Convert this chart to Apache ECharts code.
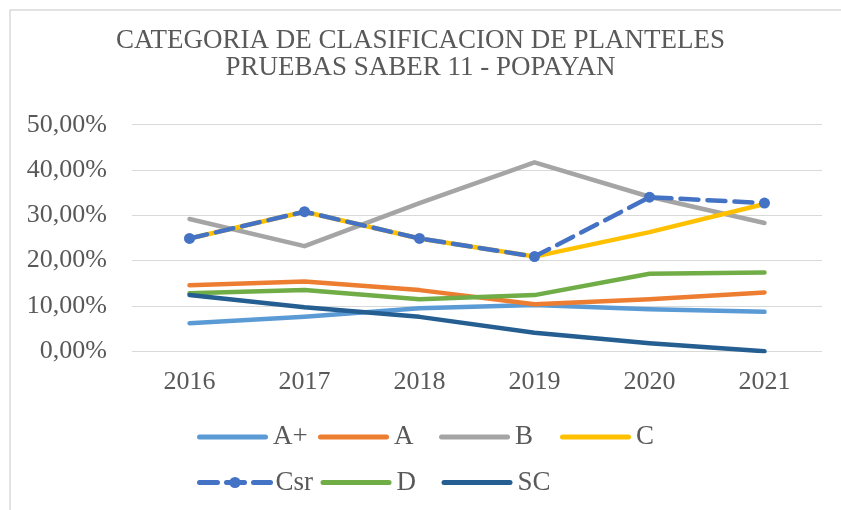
<!DOCTYPE html>
<html>
<head>
<meta charset="utf-8">
<script src="https://cdn.jsdelivr.net/npm/echarts@6/dist/echarts.min.js"></script>
<style>html,body{margin:0;padding:0;background:#fff;}#c{width:841px;height:510px;}</style>
</head>
<body>
<div id="c"></div>
<script>
const years = ['2016', '2017', '2018', '2019', '2020', '2021'];
const yTicks = [0, 10, 20, 30, 40, 50];
const seriesNames = ['A+', 'A', 'B', 'C', 'Csr', 'D', 'SC'];
const valAplus = [6.2, 7.6, 9.5, 10.2, 9.3, 8.7];
const valA = [14.6, 15.4, 13.5, 10.4, 11.5, 13.0];
const valB = [29.2, 23.2, 32.7, 41.7, 34.1, 28.3];
const valC = [24.9, 30.8, 24.9, 20.9, 26.3, 32.5];
const valCsr = [24.9, 30.8, 24.9, 20.9, 34.0, 32.7];
const valD = [12.8, 13.5, 11.5, 12.4, 17.1, 17.4];
const valSC = [12.4, 9.7, 7.6, 4.1, 1.8, 0.0];
const colors = ['#5B9BD5', '#ED7D31', '#A5A5A5', '#FFC000', '#4472C4', '#70AD47', '#255E91'];
const values = [valAplus, valA, valB, valC, valCsr, valD, valSC];

const FONT = 'Liberation Serif';
const chart = echarts.init(document.getElementById('c'), null, {renderer: 'canvas'});

const series = seriesNames.map((n, i) => {
  const isCsr = n === 'Csr';
  return {
    name: n,
    type: 'line',
    data: values[i],
    color: colors[i],
    symbol: isCsr ? 'circle' : 'none',
    symbolSize: 11,
    showSymbol: isCsr,
    itemStyle: {color: colors[i]},
    lineStyle: {width: 4.5, color: colors[i], type: isCsr ? [18, 9] : 'solid', cap: 'round', join: 'round'},
    emphasis: {disabled: true},
    animation: false
  };
});

const LINE_ICON = 'path://M2.5,0 L68.5,0 A2.5,2.5 0 0 1 68.5,5 L2.5,5 A2.5,2.5 0 0 1 2.5,0 Z';
const legendItem = n => n === 'Csr' ? {name: n} : {name: n, icon: LINE_ICON};

const legendCommon = {
  orient: 'horizontal',
  itemWidth: 71,
  itemHeight: 14,
  itemGap: 0,
  padding: 0,
  lineStyle: {width: 5},
  textStyle: {fontFamily: FONT, fontSize: 27, color: '#595959', width: 45, lineHeight: 28}
};

chart.setOption({
  backgroundColor: '#fff',
  animation: false,
  title: {
    text: 'CATEGORIA DE CLASIFICACION DE PLANTELES\nPRUEBAS SABER 11 - POPAYAN',
    left: 'center',
    top: 27,
    padding: [0, 0, 0, 13],
    textStyle: {fontFamily: FONT, fontSize: 27, fontWeight: 'normal', color: '#595959', lineHeight: 27, align: 'center'}
  },
  graphic: [{
    type: 'rect',
    shape: {x: 10, y: 10, width: 900, height: 600},
    style: {fill: 'none', stroke: '#D9D9D9', lineWidth: 1.5},
    silent: true
  }],
  legend: [
    Object.assign({}, legendCommon, {left: 197, top: 423, data: seriesNames.slice(0, 4).map(legendItem)}),
    Object.assign({}, legendCommon, {left: 197, top: 468.5, data: seriesNames.slice(4).map(legendItem)})
  ],
  grid: {left: 132, right: 19, top: 124.7, bottom: 158.7, containLabel: false},
  xAxis: {
    type: 'category',
    data: years,
    boundaryGap: true,
    axisLine: {show: false},
    axisTick: {show: false},
    axisLabel: {fontFamily: FONT, fontSize: 26, color: '#595959', margin: 18}
  },
  yAxis: {
    type: 'value',
    min: yTicks[0],
    max: yTicks[yTicks.length - 1],
    interval: 10,
    axisLine: {show: false},
    axisTick: {show: false},
    splitLine: {lineStyle: {color: '#D9D9D9', width: 1}},
    axisLabel: {
      fontFamily: FONT, fontSize: 26, color: '#595959', margin: 25,
      formatter: v => v.toFixed(2).replace('.', ',') + '%'
    }
  },
  series: series
});
</script>
</body>
</html>
